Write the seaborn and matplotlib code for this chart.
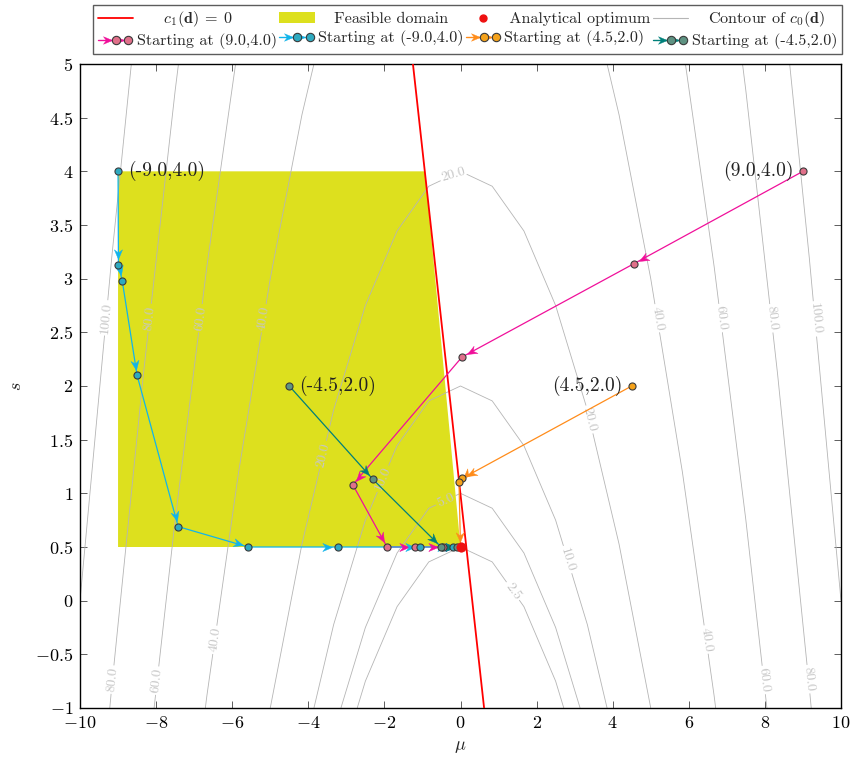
import numpy as np
import pandas as pd
import matplotlib
matplotlib.use("Agg")
import matplotlib.pyplot as plt
import seaborn as sns
from matplotlib.lines import Line2D
from matplotlib.patches import Patch
from matplotlib.path import Path
from matplotlib.markers import MarkerStyle
from matplotlib.transforms import Affine2D
from matplotlib.legend_handler import HandlerBase
from matplotlib.ticker import FixedLocator, FuncFormatter

# ---------------- data ----------------
# optimisation paths (mu, s)
path1_mu = [9.0, 4.56, 0.04, -2.83, -1.93, -1.20, -0.45, 0.0]
path1_s = [4.0, 3.14, 2.27, 1.08, 0.50, 0.50, 0.50, 0.50]
path2_mu = [-9.0, -8.99, -8.89, -8.50, -7.42, -5.58, -3.22, -1.06, -0.20, 0.0]
path2_s = [4.0, 3.13, 2.98, 2.10, 0.69, 0.50, 0.50, 0.50, 0.50, 0.50]
path3_mu = [4.5, 0.05, -0.04, 0.0]
path3_s = [2.0, 1.14, 1.11, 0.50]
path4_mu = [-4.5, -2.30, -0.51, -0.10, 0.0]
path4_s = [2.0, 1.13, 0.50, 0.50, 0.50]
path_labels = ["Starting at (9.0,4.0)", "Starting at (-9.0,4.0)",
               "Starting at (4.5,2.0)", "Starting at (-4.5,2.0)"]
start_texts = ["(9.0,4.0)", "(-9.0,4.0)", "(4.5,2.0)", "(-4.5,2.0)"]

# constraint c1(d) = 0 (end points of the line)
c1_mu = [-1.25, 0.62]
c1_s = [5.0, -1.0]

# feasible domain polygon
feas_mu = [-9.0, -0.93, 0.0, -9.0]
feas_s = [4.0, 4.0, 0.5, 0.5]

# analytical optimum
opt_mu = [0.0]
opt_s = [0.5]

# contour of c0(d) = mu^2 + 5 s on a coarse grid
grid_mu = np.linspace(-10, 10, 25)
grid_s = np.linspace(-1, 5, 25)
contour_levels = [2.5, 5.0, 10.0, 20.0, 40.0, 60.0, 80.0, 100.0]
label_pos = [(-9.47, 2.64), (9.45, 2.63), (-8.34, 2.64), (8.4, 2.64),
             (-9.3, -0.73), (9.18, -0.73), (-7.03, 2.64), (7.0, 2.64),
             (-8.1, -0.74), (7.95, -0.74), (-5.32, 2.64), (5.32, 2.64),
             (-6.55, -0.36), (6.5, -0.36), (-3.74, 1.37), (-0.14, 3.94),
             (3.53, 1.70), (-2.2, 1.16), (2.88, 0.39), (-0.46, 0.99),
             (1.46, 0.11)]

xticks = list(range(-10, 11, 2))
yticks = [-1, -0.5, 0, 0.5, 1, 1.5, 2, 2.5, 3, 3.5, 4, 4.5, 5]

line_colors = ["#f0109a", "#12b4ea", "#ff8c1a", "#00807a"]
face_colors = ["#e0708a", "#2eaac0", "#f5a21a", "#5e9282"]

# ---------------- style ----------------
sns.set_theme(style="ticks")
plt.rcParams.update({
    "font.family": "serif",
    "font.serif": ["cmr10", "DejaVu Serif"],
    "mathtext.fontset": "cm",
    "axes.formatter.use_mathtext": True,
    "axes.unicode_minus": True,
    "axes.edgecolor": "black",
    "axes.linewidth": 1.0,
    "xtick.color": "black",
    "ytick.color": "black",
})

STEALTH = Path([(0, 0), (-1, 0.42), (-0.68, 0), (-1, -0.42), (0, 0)],
               [Path.MOVETO, Path.LINETO, Path.LINETO, Path.LINETO,
                Path.CLOSEPOLY])


def stealth(theta_deg):
    return MarkerStyle(STEALTH, transform=Affine2D().rotate_deg(theta_deg))


fig = plt.figure(figsize=(8.57, 7.62), dpi=100)
ax = fig.add_axes([80 / 857, 1 - 708 / 762, 761 / 857, 644 / 762])
ax.set_xlim(-10, 10)
ax.set_ylim(-1, 5)

# feasible domain
ax.fill(feas_mu, feas_s, color="#dde01e", lw=0, zorder=1)

# contour
MU, S = np.meshgrid(grid_mu, grid_s)
C0 = MU ** 2 + 5.0 * S
cs = ax.contour(MU, S, C0, levels=contour_levels, colors="#b5b5b5",
                linewidths=0.6, zorder=2)
ax.clabel(cs, manual=label_pos, fmt="%.1f", fontsize=10, colors="#c6c6c6",
          inline=True, inline_spacing=2)

# constraint line
sns.lineplot(x=c1_mu, y=c1_s, sort=False, estimator=None, color="red",
             lw=1.3, ax=ax, zorder=3)

paths = [(path1_mu, path1_s), (path2_mu, path2_s),
         (path3_mu, path3_s), (path4_mu, path4_s)]
to_disp = ax.transData
to_data = ax.transData.inverted()
for (pm, ps), lc, fc in zip(paths, line_colors, face_colors):
    df = pd.DataFrame({"mu": pm, "s": ps, "step": range(len(pm))})
    sns.lineplot(data=df, x="mu", y="s", sort=False, estimator=None,
                 color=lc, lw=0.9, ax=ax, zorder=4)
    for i in range(len(pm) - 1):
        a = to_disp.transform((pm[i], ps[i]))
        b = to_disp.transform((pm[i + 1], ps[i + 1]))
        d = b - a
        n = np.hypot(*d)
        if n < 1e-6:
            continue
        u = d / n
        tip = to_data.transform(b - u * 5.5)
        theta = np.degrees(np.arctan2(u[1], u[0]))
        ax.plot([tip[0]], [tip[1]], ls="none", marker=stealth(theta),
                ms=14, color=lc, mec=lc, mew=0.3, zorder=4.5)
    sns.scatterplot(data=df, x="mu", y="s", color=fc, edgecolor="#3a3a3a",
                    linewidth=0.8, s=26, ax=ax, zorder=5)

sns.scatterplot(x=opt_mu, y=opt_s, color="#ee1111", edgecolor="#ee1111",
                s=45, ax=ax, zorder=6)

# start annotations
offsets = [(-7, 0, "right"), (7, 0, "left"), (-7, 0, "right"), (7, 0, "left")]
for (pm, ps), txt, (dx, dy, ha) in zip(paths, start_texts, offsets):
    ax.annotate(txt, xy=(pm[0], ps[0]), xytext=(dx, dy),
                textcoords="offset points", ha=ha, va="center",
                fontsize=14, color="#222222", zorder=7)

# axes
ax.set_xlim(-10, 10)
ax.set_ylim(-1, 5)
ax.xaxis.set_major_locator(FixedLocator(xticks))
ax.yaxis.set_major_locator(FixedLocator(yticks))
fmt = FuncFormatter(lambda v, p: "$%g$" % v)
ax.xaxis.set_major_formatter(fmt)
ax.yaxis.set_major_formatter(fmt)
ax.tick_params(direction="in", length=5, width=0.6, top=True, right=True,
               labelsize=13, color="#444444", pad=5)
ax.set_xlabel(r"$\mu$", fontsize=13, labelpad=6)
ax.set_ylabel(r"$s$", fontsize=13, labelpad=8)
for sp in ax.spines.values():
    sp.set_visible(True)
    sp.set_color("black")
    sp.set_linewidth(1.0)


# legend handler for paths
class PathHandler(HandlerBase):
    def create_artists(self, legend, orig_handle, xdescent, ydescent,
                       width, height, fontsize, trans):
        lc = orig_handle.get_color()
        fc = orig_handle.get_markerfacecolor()
        y = height / 2 - ydescent
        x0 = -xdescent
        w = width
        line = Line2D([x0, x0 + 0.88 * w], [y, y], color=lc, lw=1.0,
                      transform=trans)
        arr = Line2D([x0 + 0.40 * w, x0 + 0.74 * w], [y, y], ls="none",
                     marker=stealth(0), ms=13, color=lc, mec=lc, mew=0.3,
                     transform=trans)
        mk = Line2D([x0 + 0.52 * w, x0 + 0.86 * w], [y, y], ls="none",
                    marker="o", ms=6, mfc=fc, mec="#3a3a3a", mew=0.8,
                    transform=trans)
        return [line, arr, mk]


h_c1 = Line2D([0], [0], color="red", lw=1.3)
h_feas = Patch(facecolor="#dde01e", edgecolor="none")
h_opt = Line2D([0], [0], ls="none", marker="o", ms=5, color="#ee1111")
h_cont = Line2D([0], [0], color="#b5b5b5", lw=0.8)
h_paths = [Line2D([0], [0], color=lc, marker="o", mfc=fc)
           for lc, fc in zip(line_colors, face_colors)]

lab_c1 = "     $c_1(\\mathbf{d})\\:=\\:0$"
lab_feas = "   Feasible domain"
lab_opt = " Analytical optimum"
lab_cont = "   Contour of $c_0(\\mathbf{d})$"

handles = [h_c1, h_paths[0], h_feas, h_paths[1], h_opt, h_paths[2],
           h_cont, h_paths[3]]
labels = [lab_c1, path_labels[0], lab_feas, path_labels[1], lab_opt,
          path_labels[2], lab_cont, path_labels[3]]
hmap = {h: PathHandler() for h in h_paths}
leg = fig.legend(handles, labels, handler_map=hmap, loc="upper center",
                 bbox_to_anchor=(467.5 / 857, 0.994), ncol=4, fontsize=11.6,
                 frameon=True, fancybox=False, edgecolor="#333333",
                 handlelength=2.2, handletextpad=0.2, columnspacing=0.15,
                 borderpad=0.3, labelspacing=0.25, borderaxespad=0.0)
leg.get_frame().set_linewidth(1.0)

fig.savefig("out.png", dpi=100)
